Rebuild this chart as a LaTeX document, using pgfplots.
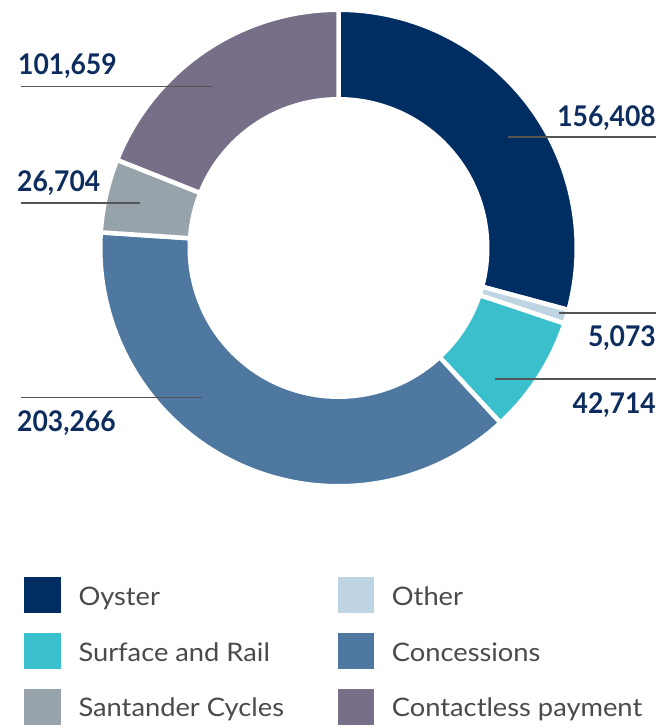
\documentclass[border=0pt]{standalone}
\usepackage{pgfplots}
\pgfplotsset{compat=1.18}
\usepackage{fontspec}
\setmainfont{Lato}
\newfontfamily\legfam{Lato}[FakeStretch=1.07]
\newfontfamily\numfam{Lato}[FakeStretch=0.93]
\definecolor{cOyster}{HTML}{002D62}
\definecolor{cOther}{HTML}{BFD4E2}
\definecolor{cSurface}{HTML}{3AC0CC}
\definecolor{cConc}{HTML}{4E78A0}
\definecolor{cSant}{HTML}{97A3AA}
\definecolor{cContact}{HTML}{776E88}
\definecolor{cNum}{HTML}{0C2D5E}
\definecolor{cLine}{HTML}{555555}
\definecolor{cLeg}{HTML}{4A4A4A}
% values
\def\vA{156408}% Oyster
\def\vB{5073}% Other
\def\vC{42714}% Surface and Rail
\def\vD{203266}% Concessions
\def\vE{26704}% Santander Cycles
\def\vF{101659}% Contactless payment
\edef\tot{\fpeval{\vA+\vB+\vC+\vD+\vE+\vF}}
\edef\aA{90}
\edef\aB{\fpeval{\aA-360*\vA/\tot}}
\edef\aC{\fpeval{\aB-360*\vB/\tot}}
\edef\aD{\fpeval{\aC-360*\vC/\tot}}
\edef\aE{\fpeval{\aD-360*\vD/\tot}}
\edef\aF{\fpeval{\aE-360*\vE/\tot}}
\edef\aG{\fpeval{\aF-360*\vF/\tot}}
\def\cx{338.5}\def\cy{480}\def\Ro{238.25}\def\Ri{151}
\newcommand\numfont{\numfam\fontsize{28.5}{32}\selectfont\bfseries\color{cNum}}
\newcommand\legfont{\legfam\fontsize{25.5}{30}\selectfont\color{cLeg}}
\begin{document}
\begin{tikzpicture}
\begin{axis}[
  width=666pt, height=728pt, scale only axis,
  xmin=0, xmax=666, ymin=0, ymax=728,
  hide axis, clip=false,
  every axis plot/.append style={line join=round},
]
\addplot[fill=cOyster, draw=white, line width=4.5pt, domain=\aB:\aA, samples=80]
  ({\cx+\Ro*cos(x)},{\cy+\Ro*sin(x)}) -- (axis cs:\cx,\cy) -- cycle;
\addplot[fill=cOther, draw=white, line width=4.5pt, domain=\aC:\aB, samples=10]
  ({\cx+\Ro*cos(x)},{\cy+\Ro*sin(x)}) -- (axis cs:\cx,\cy) -- cycle;
\addplot[fill=cSurface, draw=white, line width=4.5pt, domain=\aD:\aC, samples=30]
  ({\cx+\Ro*cos(x)},{\cy+\Ro*sin(x)}) -- (axis cs:\cx,\cy) -- cycle;
\addplot[fill=cConc, draw=white, line width=4.5pt, domain=\aE:\aD, samples=100]
  ({\cx+\Ro*cos(x)},{\cy+\Ro*sin(x)}) -- (axis cs:\cx,\cy) -- cycle;
\addplot[fill=cSant, draw=white, line width=4.5pt, domain=\aF:\aE, samples=20]
  ({\cx+\Ro*cos(x)},{\cy+\Ro*sin(x)}) -- (axis cs:\cx,\cy) -- cycle;
\addplot[fill=cContact, draw=white, line width=4.5pt, domain=\aG:\aF, samples=60]
  ({\cx+\Ro*cos(x)},{\cy+\Ro*sin(x)}) -- (axis cs:\cx,\cy) -- cycle;
\addplot[fill=white, draw=none, domain=0:360, samples=150]
  ({\cx+\Ri*cos(x)},{\cy+\Ri*sin(x)}) -- cycle;
% leader lines
\addplot[cLine, line width=1.3pt] coordinates {(21,641.3) (213,641.3)};
\addplot[cLine, line width=1.3pt] coordinates {(21,525) (140,525)};
\addplot[cLine, line width=1.3pt] coordinates {(508,591) (656,591)};
\addplot[cLine, line width=1.3pt] coordinates {(559,415) (656,415)};
\addplot[cLine, line width=1.3pt] coordinates {(495,349) (656,349)};
\addplot[cLine, line width=1.3pt] coordinates {(21,330.3) (202,330.3)};
% value labels
\node[anchor=base west, inner sep=0pt, font=\numfont] at (axis cs:18,653.7) {101,659};
\node[anchor=base west, inner sep=0pt, font=\numfont] at (axis cs:17,536) {26,704};
\node[anchor=base east, inner sep=0pt, font=\numfont] at (axis cs:656,601) {156,408};
\node[anchor=base east, inner sep=0pt, font=\numfont] at (axis cs:656,381) {5,073};
\node[anchor=base east, inner sep=0pt, font=\numfont] at (axis cs:656,314) {42,714};
\node[anchor=base west, inner sep=0pt, font=\numfont] at (axis cs:17,296) {203,266};
% legend swatches
\addplot[fill=cOyster, draw=none] coordinates {(24.3,114.7) (60.7,114.7) (60.7,150.7) (24.3,150.7)} -- cycle;
\addplot[fill=cOther, draw=none] coordinates {(337.8,114.7) (374.2,114.7) (374.2,150.7) (337.8,150.7)} -- cycle;
\addplot[fill=cSurface, draw=none] coordinates {(24.3,58.7) (60.7,58.7) (60.7,94.7) (24.3,94.7)} -- cycle;
\addplot[fill=cConc, draw=none] coordinates {(337.8,58.7) (374.2,58.7) (374.2,94.7) (337.8,94.7)} -- cycle;
\addplot[fill=cSant, draw=none] coordinates {(24.3,2.7) (60.7,2.7) (60.7,38.7) (24.3,38.7)} -- cycle;
\addplot[fill=cContact, draw=none] coordinates {(337.8,2.7) (374.2,2.7) (374.2,38.7) (337.8,38.7)} -- cycle;
% legend texts
\node[anchor=base west, inner sep=0pt, font=\legfont] at (axis cs:78.3,122) {Oyster};
\node[anchor=base west, inner sep=0pt, font=\legfont] at (axis cs:391.7,122) {Other};
\node[anchor=base west, inner sep=0pt, font=\legfont] at (axis cs:78.3,66.3) {Surface and Rail};
\node[anchor=base west, inner sep=0pt, font=\legfont] at (axis cs:391.7,66.3) {Concessions};
\node[anchor=base west, inner sep=0pt, font=\legfont] at (axis cs:78.3,11.3) {Santander Cycles};
\node[anchor=base west, inner sep=0pt, font=\legfont] at (axis cs:391.7,11.3) {Contactless payment};
\end{axis}
\pgfresetboundingbox
\useasboundingbox (0,0) rectangle (666pt,728pt);
\end{tikzpicture}
\end{document}
